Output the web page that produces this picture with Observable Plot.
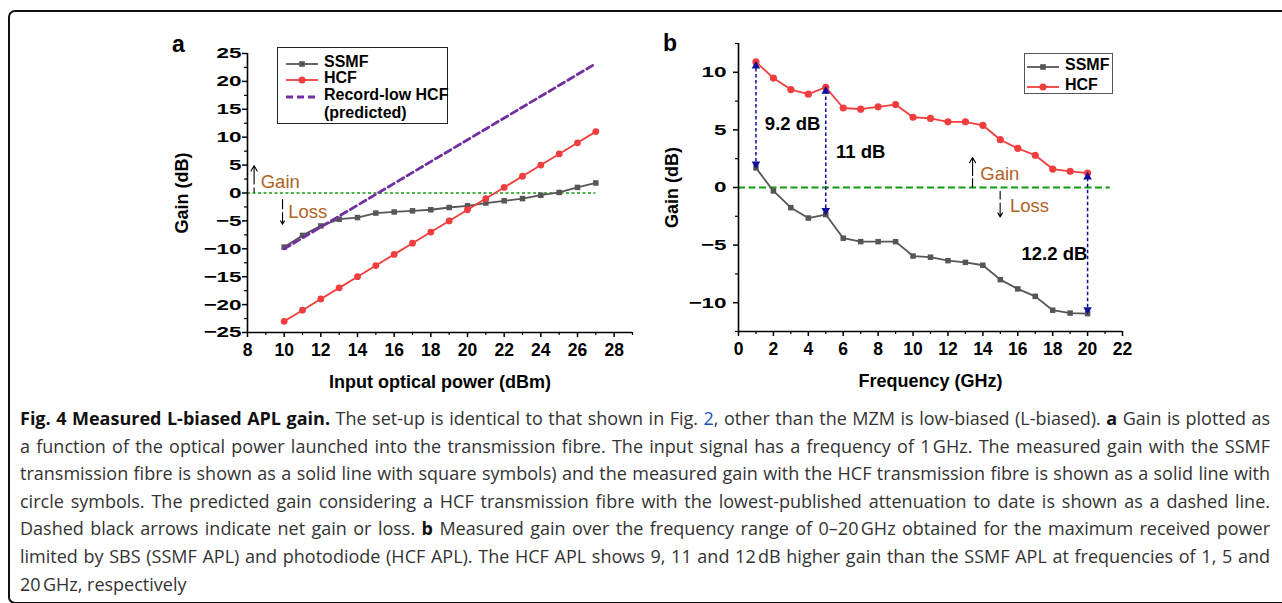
<!DOCTYPE html>
<html>
<head>
<meta charset="utf-8">
<script src="https://cdn.jsdelivr.net/npm/d3@7"></script>
<script src="https://cdn.jsdelivr.net/npm/@observablehq/plot@0.6"></script>
<style>
  html, body { margin: 0; padding: 0; background: #fff; }
  body { width: 1282px; height: 603px; overflow: hidden; position: relative; font-family: "Liberation Sans", Arial, sans-serif; }
  #frame { position: absolute; left: 8px; top: 10px; width: 1320px; height: 590px; border: 2.6px solid #111; border-radius: 7px; box-sizing: content-box; }
  .panel { position: absolute; top: 30px; }
  .tag { position: absolute; font-weight: bold; font-size: 23px; line-height: 1; color: #000; }
  .legend { position: absolute; background: #fff; box-sizing: border-box; }
  .lrow { position: absolute; font-size: 16px; font-weight: bold; line-height: 1; white-space: nowrap; color: #000; }
  .lsample { position: absolute; }
  #caption { position: absolute; left: 20px; top: 0; width: 1250px; font-family: "Open Sans", "Liberation Sans Narrow", "DejaVu Sans Condensed", sans-serif; font-size: 18px; color: #333; }
  .cline { position: absolute; left: 0; white-space: nowrap; line-height: 1; transform-origin: 0 50%; }
  .cline b { font-weight: 700; color: #111; }
  .cline .lnk { color: #1a55c0; }
</style>
</head>
<body>
<div id="frame"></div>
<div id="pa" class="panel" style="left:160px"></div>
<div id="pb" class="panel" style="left:660px"></div>
<div class="tag" style="left:172px;top:33px">a</div>
<div class="tag" style="left:663px;top:32px">b</div>
<div id="legA" class="legend" style="left:277px;top:47px;width:171px;height:77px;border:1.3px solid #222"></div>
<div id="legB" class="legend" style="left:1024px;top:53px;width:89px;height:41px;border:1.5px solid #555"></div>
<div id="caption"></div>
<script>
// ---------------- DATA ----------------
// Panel a: gain vs input optical power (dBm), 1 GHz signal
const powerDBm = [10, 11, 12, 13, 14, 15, 16, 17, 18, 19, 20, 21, 22, 23, 24, 25, 26, 27];
const ssmfGainVsPower = [-9.7, -7.6, -5.9, -4.7, -4.4, -3.6, -3.4, -3.2, -3.0, -2.6, -2.3, -1.8, -1.4, -1.0, -0.4, 0.1, 1.0, 1.8];
const hcfGainVsPower = [-23, -21, -19, -17, -15, -13, -11, -9, -7, -5, -3, -1, 1, 3, 5, 7, 9, 11];
const predictedPower = [10, 27];
const predictedGain = [-10, 23.2];

// Panel b: gain vs frequency (GHz)
const freqGHz = [1, 2, 3, 4, 5, 6, 7, 8, 9, 10, 11, 12, 13, 14, 15, 16, 17, 18, 19, 20];
const ssmfGainVsFreq = [1.7, -0.3, -1.75, -2.65, -2.35, -4.4, -4.7, -4.7, -4.7, -5.95, -6.05, -6.35, -6.5, -6.75, -8.0, -8.8, -9.45, -10.65, -10.9, -10.95];
const hcfGainVsFreq = [10.9, 9.5, 8.5, 8.1, 8.7, 6.9, 6.8, 7.0, 7.2, 6.1, 6.0, 5.7, 5.7, 5.4, 4.15, 3.4, 2.8, 1.6, 1.4, 1.25];
const diffFreqs = [1, 5, 20];
const diffLabels = ["9.2 dB", "11 dB", "12.2 dB"];

// Axes
const xDomainA = [8, 29], yDomainA = [-25, 25];
const xTicksA = [8, 10, 12, 14, 16, 18, 20, 22, 24, 26, 28];
const xMinorA = [9, 11, 13, 15, 17, 19, 21, 23, 25, 27, 29];
const yTicksA = [-25, -20, -15, -10, -5, 0, 5, 10, 15, 20, 25];
const yMinorA = [-22.5, -17.5, -12.5, -7.5, -2.5, 2.5, 7.5, 12.5, 17.5, 22.5];
const xDomainB = [0, 22], yDomainB = [-12.5, 12.5];
const xTicksB = [0, 2, 4, 6, 8, 10, 12, 14, 16, 18, 20, 22];
const xMinorB = [1, 3, 5, 7, 9, 11, 13, 15, 17, 19, 21];
const yTicksB = [-10, -5, 0, 5, 10];
const yMinorB = [-12.5, -7.5, -2.5, 2.5, 7.5, 12.5];

// Series names and text
const seriesNames = ["SSMF", "HCF"];
const predictedName = ["Record-low HCF", "(predicted)"];
const xLabelA = "Input optical power (dBm)";
const xLabelB = "Frequency (GHz)";
const yLabel = "Gain (dB)";

// Annotations (data coordinates)
const zeroLineA = [{y: 0, x1: 8, x2: 27}];
const zeroLineB = [{y: 0, x1: 0, x2: 21.3}];
const annA = {
  gainShaft: [{x: 8.36, y1: 0.1, y2: 1.0}], gainHead: [{x: 8.36, y1: 1.6, y2: 4.9}],
  lossShaft: [{x: 9.91, y1: -1.1, y2: -2.9}], lossHead: [{x: 9.91, y1: -3.5, y2: -5.6}],
  text: [{x: 8.72, y: 2.0, t: "Gain"}, {x: 10.22, y: -3.5, t: "Loss"}]
};
const annB = {
  gainShaft: [{x: 13.41, y1: 0, y2: 0.8}], gainHead: [{x: 13.41, y1: 1.05, y2: 2.6}],
  lossShaft: [{x: 14.99, y1: -0.3, y2: -1.05}], lossHead: [{x: 14.99, y1: -1.35, y2: -2.55}],
  text: [{x: 13.85, y: 1.15, t: "Gain"}, {x: 15.55, y: -1.6, t: "Loss"}]
};
const diffLabelPos = [{x: 3.1, y: 5.5}, {x: 7.0, y: 3.1}, {x: 18.1, y: -5.8}];

// ---------------- STYLE ----------------
const FONT = "'Liberation Sans', Arial, sans-serif";
const C_SSMF = "#565656", C_HCF = "#f03e3e", C_PRED = "#7030a0", C_ZERO = "#119911", C_DIFF = "#10109a", C_ANN = "#b0621f";

function stretchYTicks(svg, k) {
  svg.querySelectorAll('g[aria-label="y-axis tick label"] text').forEach(t => {
    const tr = t.getAttribute("transform");
    if (tr) t.setAttribute("transform", tr + ` scale(${k},1)`);
    else {
      const x = +t.getAttribute("x") || 0, y = +t.getAttribute("y") || 0;
      t.setAttribute("transform", `translate(${x},${y}) scale(${k},1) translate(${-x},${-y})`);
    }
  });
}

function annMarks(ann) {
  return [
    Plot.link(ann.gainShaft, {x1: "x", x2: "x", y1: "y1", y2: "y2", stroke: "#000", strokeWidth: 1.1}),
    Plot.arrow(ann.gainHead, {x1: "x", x2: "x", y1: "y1", y2: "y2", stroke: "#000", strokeWidth: 1.1, headLength: 9}),
    Plot.link(ann.lossShaft, {x1: "x", x2: "x", y1: "y1", y2: "y2", stroke: "#000", strokeWidth: 1.1}),
    Plot.arrow(ann.lossHead, {x1: "x", x2: "x", y1: "y1", y2: "y2", stroke: "#000", strokeWidth: 1.1, headLength: 9}),
    Plot.text(ann.text, {x: "x", y: "y", text: "t", fill: C_ANN, fontSize: 18.5, textAnchor: "start", lineAnchor: "middle"})
  ];
}

function axisMarks(xTicks, xMinor, yTicks, yMinor, xDom, yDom, yPad, xLabel, yLabelDx) {
  return [
    Plot.ruleX([xDom[0]], {stroke: "#000", strokeWidth: 1.6}),
    Plot.ruleY([yDom[0]], {stroke: "#000", strokeWidth: 1.6}),
    Plot.axisX({ticks: xTicks, tickSize: 5, tickPadding: 6, fontSize: 17.5, fontWeight: "bold", label: null, strokeWidth: 1.5}),
    Plot.axisX({ticks: xMinor, tickSize: 3, tickFormat: () => "", label: null, strokeWidth: 1.2}),
    Plot.axisY({ticks: yTicks, tickSize: 5, tickPadding: yPad, fontSize: 15.5, fontWeight: "bold", label: null, strokeWidth: 1.5}),
    Plot.axisY({ticks: yMinor, tickSize: 3, tickFormat: () => "", label: null, strokeWidth: 1.2}),
    Plot.text([xLabel], {text: d => d, frameAnchor: "bottom", dy: 50, textAnchor: "middle", lineAnchor: "middle", fontSize: 18, fontWeight: "bold"}),
    Plot.text([yLabel], {text: d => d, frameAnchor: "left", dx: yLabelDx, rotate: -90, textAnchor: "middle", lineAnchor: "middle", fontSize: 18, fontWeight: "bold"})
  ];
}

// ---------------- PANEL A ----------------
const ssmfA = powerDBm.map((x, i) => ({x, y: ssmfGainVsPower[i]}));
const hcfA = powerDBm.map((x, i) => ({x, y: hcfGainVsPower[i]}));
const predA = predictedPower.map((x, i) => ({x, y: predictedGain[i]}));

const plotA = Plot.plot({
  width: 480, height: 370,
  marginLeft: 87, marginRight: 8, marginTop: 23, marginBottom: 68,
  x: {domain: xDomainA}, y: {domain: yDomainA},
  style: {fontFamily: FONT, background: "transparent", overflow: "visible", color: "#000"},
  marks: [
    Plot.ruleY(zeroLineA, {y: "y", x1: "x1", x2: "x2", stroke: C_ZERO, strokeWidth: 1.6, strokeDasharray: "3,2.5"}),
    ...annMarks(annA),
    Plot.line(ssmfA, {x: "x", y: "y", stroke: C_SSMF, strokeWidth: 1.8}),
    Plot.dot(ssmfA, {x: "x", y: "y", symbol: "square", r: 3.1, fill: C_SSMF, stroke: "none"}),
    Plot.line(hcfA, {x: "x", y: "y", stroke: C_HCF, strokeWidth: 1.8}),
    Plot.dot(hcfA, {x: "x", y: "y", r: 3.4, fill: C_HCF, stroke: "none"}),
    Plot.line(predA, {x: "x", y: "y", stroke: C_PRED, strokeWidth: 2.8, strokeDasharray: "7,4"}),
    ...axisMarks(xTicksA, xMinorA, yTicksA, yMinorA, xDomainA, yDomainA, 1, xLabelA, -65)
  ]
});
stretchYTicks(plotA, 1.45);
document.getElementById("pa").append(plotA);

// ---------------- PANEL B ----------------
const ssmfB = freqGHz.map((x, i) => ({x, y: ssmfGainVsFreq[i]}));
const hcfB = freqGHz.map((x, i) => ({x, y: hcfGainVsFreq[i]}));
const diffB = diffFreqs.map((f, i) => {
  const k = freqGHz.indexOf(f);
  return {x: f, lo: ssmfGainVsFreq[k], hi: hcfGainVsFreq[k], label: diffLabels[i], lx: diffLabelPos[i].x, ly: diffLabelPos[i].y};
});

const plotB = Plot.plot({
  width: 480, height: 370,
  marginLeft: 78, marginRight: 18, marginTop: 13, marginBottom: 69,
  x: {domain: xDomainB}, y: {domain: yDomainB},
  style: {fontFamily: FONT, background: "transparent", overflow: "visible", color: "#000"},
  marks: [
    Plot.ruleY(zeroLineB, {y: "y", x1: "x1", x2: "x2", stroke: C_ZERO, strokeWidth: 1.8, strokeDasharray: "7,3.5"}),
    ...annMarks(annB),
    Plot.line(ssmfB, {x: "x", y: "y", stroke: C_SSMF, strokeWidth: 1.8}),
    Plot.dot(ssmfB, {x: "x", y: "y", symbol: "square", r: 3.1, fill: C_SSMF, stroke: "none"}),
    Plot.line(hcfB, {x: "x", y: "y", stroke: C_HCF, strokeWidth: 1.8}),
    Plot.dot(hcfB, {x: "x", y: "y", r: 3.6, fill: C_HCF, stroke: "none"}),
    Plot.ruleX(diffB, {x: "x", y1: "lo", y2: "hi", stroke: C_DIFF, strokeWidth: 1.5, strokeDasharray: "3.5,2.5"}),
    Plot.dot(diffB, {x: "x", y: "hi", symbol: "triangle", r: 3.2, fill: C_DIFF, stroke: "none", dy: 4}),
    Plot.dot(diffB, {x: "x", y: "lo", symbol: "triangle", r: 3.2, fill: C_DIFF, stroke: "none", dy: -4, rotate: 180}),
    Plot.text(diffB, {x: "lx", y: "ly", text: "label", fontSize: 18.5, fontWeight: "bold", fill: "#000", textAnchor: "middle", lineAnchor: "middle"}),
    ...axisMarks(xTicksB, xMinorB, yTicksB, yMinorB, xDomainB, yDomainB, 7, xLabelB, -66)
  ]
});
stretchYTicks(plotB, 1.45);
document.getElementById("pb").append(plotB);

// ---------------- LEGENDS ----------------
function sampleSVG(kind, w) {
  const h = 12, cy = 6;
  if (kind === "SSMF") return `<svg width="${w}" height="${h}"><line x1="0" y1="${cy}" x2="${w}" y2="${cy}" stroke="${C_SSMF}" stroke-width="1.8"/><rect x="${w/2-2.8}" y="${cy-2.8}" width="5.6" height="5.6" fill="${C_SSMF}"/></svg>`;
  if (kind === "HCF") return `<svg width="${w}" height="${h}"><line x1="0" y1="${cy}" x2="${w}" y2="${cy}" stroke="${C_HCF}" stroke-width="1.8"/><circle cx="${w/2}" cy="${cy}" r="3.5" fill="${C_HCF}"/></svg>`;
  return `<svg width="${w}" height="${h}"><line x1="0" y1="${cy}" x2="${w}" y2="${cy}" stroke="${C_PRED}" stroke-width="3" stroke-dasharray="7,4"/></svg>`;
}
function addLegend(id, items, sx, sw, tx) {
  const leg = document.getElementById(id);
  const r = leg.getBoundingClientRect();
  items.forEach(it => {
    if (it.kind) {
      const s = document.createElement("div");
      s.className = "lsample";
      s.style.left = (sx - r.left) + "px"; s.style.top = (it.cy - 6 - r.top) + "px";
      s.innerHTML = sampleSVG(it.kind, sw);
      leg.append(s);
    }
    const t = document.createElement("div");
    t.className = "lrow";
    t.textContent = it.text;
    t.style.left = (tx - r.left) + "px"; t.style.top = (it.cy - 8 - r.top) + "px";
    leg.append(t);
  });
}
addLegend("legA", [
  {kind: "SSMF", text: seriesNames[0], cy: 61},
  {kind: "HCF", text: seriesNames[1], cy: 77},
  {kind: "PRED", text: predictedName[0], cy: 93.5},
  {kind: null, text: predictedName[1], cy: 111.5}
], 285, 32, 323);
addLegend("legB", [
  {kind: "SSMF", text: seriesNames[0], cy: 63.5},
  {kind: "HCF", text: seriesNames[1], cy: 83.5}
], 1026, 32, 1064);

// ---------------- CAPTION ----------------
const captionLines = [
  '<b>Fig. 4 Measured L-biased APL gain.</b> The set-up is identical to that shown in Fig. <span class="lnk">2</span>, other than the MZM is low-biased (L-biased). <b>a</b> Gain is plotted as',
  'a function of the optical power launched into the transmission fibre. The input signal has a frequency of 1\u202fGHz. The measured gain with the SSMF',
  'transmission fibre is shown as a solid line with square symbols) and the measured gain with the HCF transmission fibre is shown as a solid line with',
  'circle symbols. The predicted gain considering a HCF transmission fibre with the lowest-published attenuation to date is shown as a dashed line.',
  'Dashed black arrows indicate net gain or loss. <b>b</b> Measured gain over the frequency range of 0\u201320\u202fGHz obtained for the maximum received power',
  'limited by SBS (SSMF APL) and photodiode (HCF APL). The HCF APL shows 9, 11 and 12\u202fdB higher gain than the SSMF APL at frequencies of 1, 5 and',
  '20\u202fGHz, respectively'
];
const cap = document.getElementById("caption");
const TARGET = 1250, FIRST = 419, STEP = 27.6, FIT = 1238;
const divs = captionLines.map((html, i) => {
  const d = document.createElement("div");
  d.className = "cline";
  d.innerHTML = html;
  d.style.top = (FIRST + i * STEP - 10) + "px";
  cap.append(d);
  return d;
});
function maxWidth() { return Math.max(...divs.slice(0, -1).map(d => d.getBoundingClientRect().width)); }
// choose a font width so that the widest line just fits
let lo = 70, hi = 100;
cap.style.fontStretch = "100%";
if (maxWidth() > FIT) {
  for (let k = 0; k < 14; k++) {
    const mid = (lo + hi) / 2;
    cap.style.fontStretch = mid + "%";
    if (maxWidth() > FIT) hi = mid; else lo = mid;
  }
  cap.style.fontStretch = lo + "%";
}
divs.forEach((d, i) => {
  if (i === divs.length - 1) return;
  const w = d.getBoundingClientRect().width;
  const spaces = (d.textContent.match(/ /g) || []).length;
  if (w > TARGET) d.style.transform = `scaleX(${TARGET / w})`;
  else if (spaces) d.style.wordSpacing = ((TARGET - w) / spaces) + "px";
});
</script>
</body>
</html>
